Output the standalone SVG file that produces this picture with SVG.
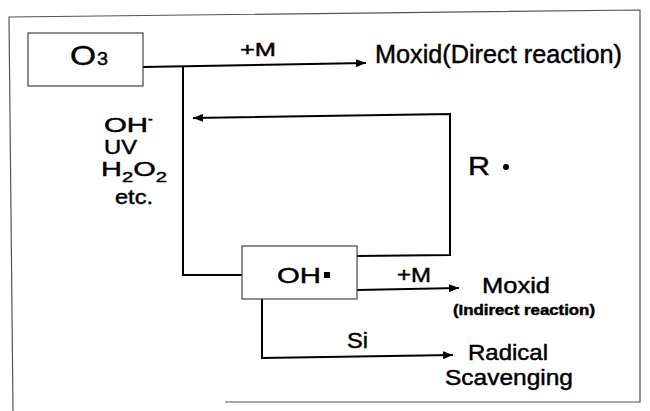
<svg xmlns="http://www.w3.org/2000/svg" width="650" height="411" viewBox="0 0 650 411">
<defs>
<style>
.t{font-family:"Liberation Sans",Arial,Helvetica,sans-serif;fill:#000;stroke:#000;stroke-width:0.45;}
.box{fill:#fff;stroke:#444;stroke-width:1.2;}
.ln{fill:none;stroke:#000;stroke-width:2;}
.frame{fill:none;stroke:#555;stroke-width:1.2;}
</style>
<marker id="ah" viewBox="0 0 10 8" refX="10" refY="4" markerWidth="10" markerHeight="8" markerUnits="userSpaceOnUse" orient="auto">
<path d="M0,0 L10,4 L0,8 z" fill="#000"/>
</marker>
</defs>
<rect width="650" height="411" fill="#fff"/>
<path class="frame" d="M225,402 L640,402 L640,10 L9,17 L13,411"/>
<g id="connectors">
<path class="ln" d="M143,67 L366,63" marker-end="url(#ah)"/>
<path class="ln" d="M183,66 L183,275 L242,275"/>
<path class="ln" d="M357,256 L450,255 L450,114 L193,118" marker-end="url(#ah)"/>
<path class="ln" d="M357,290 L459,288" marker-end="url(#ah)"/>
<path class="ln" d="M262,299 L262,358 L453,355" marker-end="url(#ah)"/>
</g>
<g id="o3">
<rect class="box" x="28" y="33" width="115" height="53"/>
<text class="t" x="70" y="65" font-size="28" textLength="26" lengthAdjust="spacingAndGlyphs">O</text>
<text class="t" x="97" y="65" font-size="18" textLength="11" lengthAdjust="spacingAndGlyphs">3</text>
</g>
<g id="oh">
<rect class="box" x="242" y="246" width="115" height="53"/>
<text class="t" x="277" y="283" font-size="22" textLength="44" lengthAdjust="spacingAndGlyphs">OH</text>
<rect x="324" y="272" width="6" height="6" fill="#000"/>
</g>
<g id="labels">
<text class="t" x="240" y="56" font-size="19" textLength="36" lengthAdjust="spacingAndGlyphs">+M</text>
<text class="t" x="375" y="63" font-size="25" textLength="247" lengthAdjust="spacingAndGlyphs">Moxid(Direct reaction)</text>
<text class="t" x="104" y="132" font-size="20" textLength="44" lengthAdjust="spacingAndGlyphs">OH</text>
<text class="t" x="148" y="124" font-size="14">-</text>
<text class="t" x="104" y="154" font-size="20" textLength="33" lengthAdjust="spacingAndGlyphs">UV</text>
<text class="t" x="101" y="176" font-size="20" textLength="66" lengthAdjust="spacingAndGlyphs">H<tspan font-size="14" dy="6">2</tspan><tspan dy="-6">O</tspan><tspan font-size="14" dy="6">2</tspan></text>
<text class="t" x="115" y="204" font-size="20" textLength="38" lengthAdjust="spacingAndGlyphs">etc.</text>
<text class="t" x="468" y="175" font-size="25" textLength="22" lengthAdjust="spacingAndGlyphs">R</text>
<circle cx="506" cy="167" r="3" fill="#000"/>
<text class="t" x="397" y="282" font-size="20" textLength="34" lengthAdjust="spacingAndGlyphs">+M</text>
<text class="t" x="482" y="293" font-size="22" textLength="68" lengthAdjust="spacingAndGlyphs">Moxid</text>
<text class="t" x="453" y="315" font-size="14" font-weight="bold" textLength="142" lengthAdjust="spacingAndGlyphs">(Indirect reaction)</text>
<text class="t" x="347" y="348" font-size="22" textLength="21" lengthAdjust="spacingAndGlyphs">Si</text>
<text class="t" x="468" y="360" font-size="22" textLength="80" lengthAdjust="spacingAndGlyphs">Radical</text>
<text class="t" x="445" y="385" font-size="22" textLength="128" lengthAdjust="spacingAndGlyphs">Scavenging</text>
</g>
</svg>
